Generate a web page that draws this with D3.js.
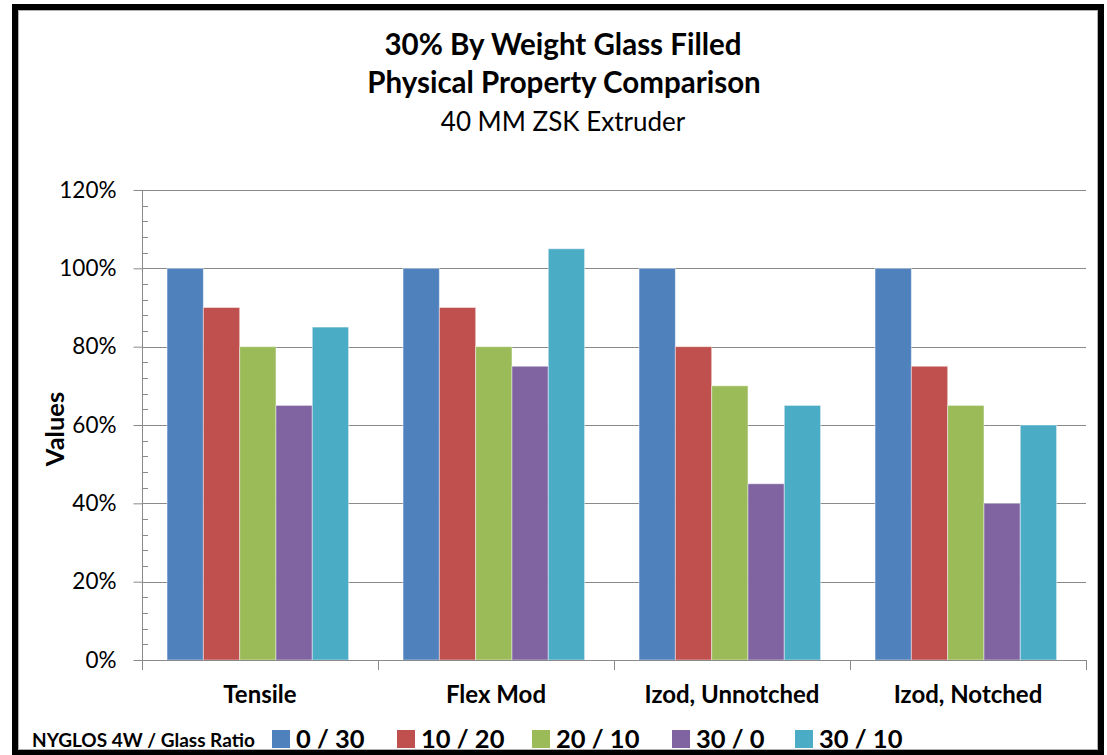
<!DOCTYPE html>
<html><head><meta charset="utf-8">
<script src="https://cdn.jsdelivr.net/npm/d3@7"></script>
<style>body{margin:0;background:#fff}svg{display:block}text{font-family:Lato,"Open Sans",sans-serif;fill:#000}</style>
</head><body>
<svg id="c" width="1107" height="755"></svg>
<script>
const categories = ["Tensile", "Flex Mod", "Izod, Unnotched", "Izod, Notched"];
const seriesNames = ["0 / 30", "10 / 20", "20 / 10", "30 / 0", "30 / 10"];
const seriesColors = ["#4F81BD", "#C0504D", "#9BBB59", "#8064A2", "#4BACC6"];
const s0_30  = [100, 100, 100, 100];
const s10_20 = [90, 90, 80, 75];
const s20_10 = [80, 80, 70, 65];
const s30_0  = [65, 75, 45, 40];
const s30_10 = [85, 105, 65, 60];
const seriesValues = [s0_30, s10_20, s20_10, s30_0, s30_10];
const yTicks = [0, 20, 40, 60, 80, 100, 120];
const titleLines = ["30% By Weight Glass Filled", "Physical Property Comparison"];
const subtitle = "40 MM ZSK Extruder";
const yTitle = "Values";
const legendTitle = "NYGLOS 4W / Glass Ratio";

(function(){
const svg = d3.select("#c");
const pL = 142, pR = 1086, pT = 190, pB = 660;

// frame
svg.append("rect").attr("x",15).attr("y",7).attr("width",1086).attr("height",746)
  .attr("fill","#fff").attr("stroke","#000").attr("stroke-width",6);
svg.append("rect").attr("x",18.5).attr("y",10.5).attr("width",1079).attr("height",739)
  .attr("fill","none").attr("stroke","#b0b0b0").attr("stroke-width",1);

const y = d3.scaleLinear().domain([0,120]).range([pB, pT]);
const x0 = d3.scaleBand().domain(categories).range([pL, pR]).padding(0);
const bw = x0.bandwidth() / 6.5;
const x1 = d3.scaleBand().domain(seriesNames).range([bw*0.69, bw*0.69 + 5*bw]).padding(0);

// gridlines
svg.append("g").selectAll("line").data(yTicks.filter(d=>d>0)).join("line")
  .attr("x1",pL).attr("x2",pR).attr("y1",d=>Math.round(y(d))+0.5).attr("y2",d=>Math.round(y(d))+0.5)
  .attr("stroke","#8a8a8a").attr("stroke-width",1);

// bars
const g = svg.append("g");
categories.forEach((c,ci)=>{
  seriesNames.forEach((s,si)=>{
    const v = seriesValues[si][ci];
    g.append("rect")
      .attr("x", x0(c)+x1(s)).attr("width", x1.bandwidth())
      .attr("y", y(v)).attr("height", y(0)-y(v))
      .attr("fill", seriesColors[si])
      .attr("stroke","#ffffff").attr("stroke-opacity",0.45).attr("stroke-width",1);
  });
});

// y axis
const yAxis = d3.axisLeft(y).tickValues(yTicks).tickSize(9).tickFormat(d=>d+"%");
const ya = svg.append("g").attr("transform",`translate(${pL+0.5},0)`).call(yAxis);
ya.select(".domain").attr("stroke","#8a8a8a").attr("d",`M0,${pT}V${pB}`);
ya.selectAll(".tick line").attr("stroke","#8a8a8a");
ya.selectAll(".tick text").attr("x",-26).style("font-size","22.5px").style("font-family","Lato");
// minor ticks
const minor = d3.range(0,121,4).filter(d=>d%20!==0);
svg.append("g").selectAll("line").data(minor).join("line")
  .attr("x1",pL).attr("x2",pL+6).attr("y1",d=>Math.round(y(d))+0.5).attr("y2",d=>Math.round(y(d))+0.5)
  .attr("stroke","#8a8a8a");

// x axis
svg.append("line").attr("x1",pL).attr("x2",pR+1).attr("y1",pB+0.5).attr("y2",pB+0.5).attr("stroke","#8a8a8a");
const bounds = categories.map(c=>x0(c)).concat([pR]);
svg.append("g").selectAll("line").data(bounds).join("line")
  .attr("x1",d=>Math.round(d)+0.5).attr("x2",d=>Math.round(d)+0.5).attr("y1",pB).attr("y2",pB+10)
  .attr("stroke","#8a8a8a");
svg.append("g").selectAll("text").data(categories).join("text")
  .attr("x",d=>x0(d)+x0.bandwidth()/2).attr("y",703).attr("text-anchor","middle")
  .style("font-size","24px").style("font-weight","bold").text(d=>d);

// titles
svg.append("text").attr("x",563).attr("y",55).attr("text-anchor","middle")
  .style("font-size","29.5px").style("font-weight","bold").text(titleLines[0]);
svg.append("text").attr("x",564).attr("y",93).attr("text-anchor","middle")
  .style("font-size","29.5px").style("font-weight","bold").text(titleLines[1]);
svg.append("text").attr("x",563).attr("y",131).attr("text-anchor","middle")
  .style("font-size","26px").text(subtitle);

// y title
svg.append("text").attr("transform","translate(64,429) rotate(-90)").attr("text-anchor","middle")
  .style("font-size","25.5px").style("font-weight","bold").text(yTitle);

// legend
svg.append("text").attr("x",32).attr("y",747).style("font-size","19px").style("font-weight","bold").text(legendTitle);
const legendX = [272, 397, 532, 672, 795];
const lg = svg.append("g");
seriesNames.forEach((s,i)=>{
  lg.append("rect").attr("x",legendX[i]).attr("y",730).attr("width",18).attr("height",18).attr("fill",seriesColors[i]);
  lg.append("text").attr("x",legendX[i]+24).attr("y",748).style("font-size","25.5px").style("font-weight","bold").text(s);
});
})();
</script>
</body></html>
